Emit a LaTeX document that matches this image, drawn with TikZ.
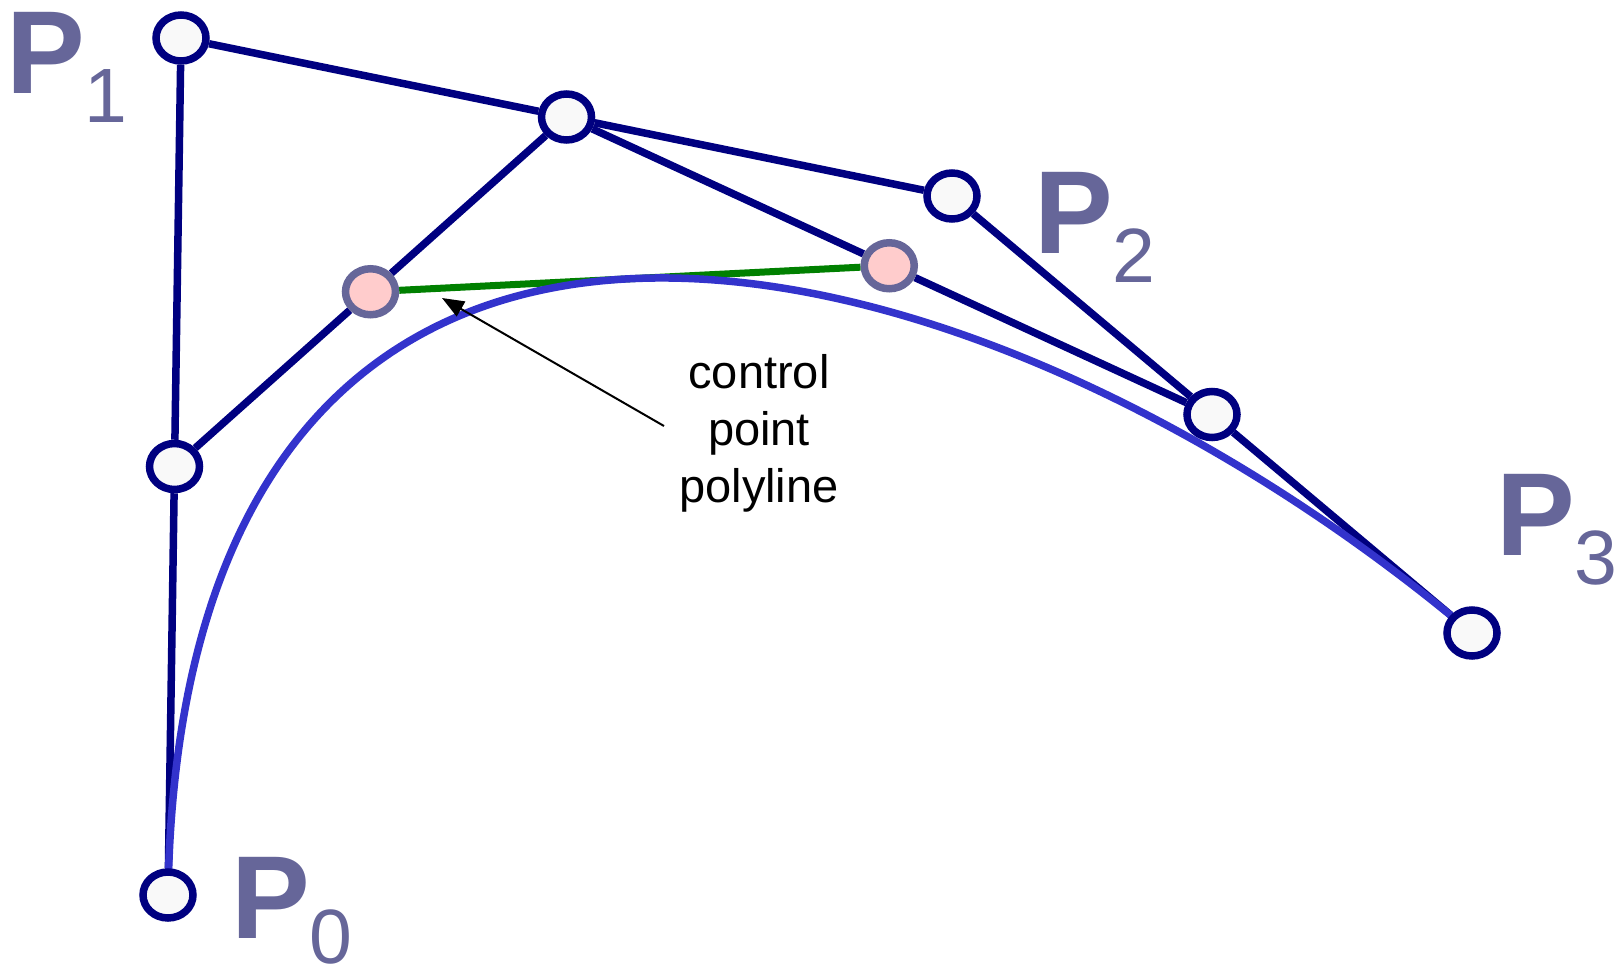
\documentclass[tikz,border=0pt]{standalone}
\usepackage{fontspec}
\setmainfont{Liberation Sans}
\usetikzlibrary{arrows.meta, calc, shapes.geometric, backgrounds}

\definecolor{polynavy}{RGB}{0,0,128}
\definecolor{curveblue}{RGB}{51,51,204}
\definecolor{polygreen}{RGB}{0,128,0}
\definecolor{labelgray}{RGB}{102,102,153}
\definecolor{knotfill}{RGB}{249,249,249}
\definecolor{pinkfill}{RGB}{255,204,204}

\newcommand{\ptlabel}[2][-29pt]{{\fontsize{118}{118}\selectfont\bfseries P}\raisebox{#1}{\fontsize{77}{77}\selectfont #2}}

\begin{document}
\begin{tikzpicture}[
  x=1pt, y=-1pt,
  knot/.style = {ellipse, draw=polynavy, fill=knotfill, line width=7.5pt, minimum width=50pt, minimum height=46pt, inner sep=0pt},
  halfknot/.style = {knot, draw=labelgray, fill=pinkfill},
  poly/.style = {polynavy, line width=7.5pt},
  ptname/.style = {anchor=base west, inner sep=0pt, text=labelgray},
  pointer/.style = {line width=2pt, -{Triangle[length=22pt, width=17pt]}}
]
\useasboundingbox (0,0) rectangle (1620,972);

  % control points
  \node[knot] (p0) at (168,895) {};
  \node[knot] (p1) at (181,38) {};
  \node[knot] (p2) at (952,196) {};
  \node[knot] (p3) at (1472,633) {};

  % first subdivision
  \node[knot] (q01) at ($(p0)!.5!(p1)$) {};
  \node[knot] (q12) at ($(p1)!.5!(p2)$) {};
  \node[knot] (q23) at ($(p2)!.5!(p3)$) {};

  % second subdivision
  \node[halfknot] (r0) at ($(q01)!.5!(q12)$) {};
  \node[halfknot] (r1) at ($(q12)!.5!(q23)$) {};

  \begin{pgfonlayer}{background}
    \draw[poly] (p0) -- (q01) -- (p1) -- (q12) -- (p2) -- (q23) -- (p3);
    \draw[poly] (q01) -- (r0) -- (q12) -- (r1) -- (q23);
    \draw[polygreen, line width=7pt] (r0) -- (r1);
    \draw[curveblue, line width=7.5pt] (p0.center) .. controls (p1.center) and (p2.center) .. (p3.center);
  \end{pgfonlayer}

  % labels
  \node[ptname] (l0) at (231,938) {\ptlabel[-25pt]{0}};
  \node[ptname] (l1) at (6,93) {\ptlabel{1}};
  \node[ptname] (l2) at (1034,253) {\ptlabel{2}};
  \node[ptname] (l3) at (1496,555) {\ptlabel{3}};

  % annotation
  \node[font=\fontsize{47}{57}\selectfont, align=center] (ann) at (759,433) {control\\point\\polyline};
  \coordinate (tail) at (664,426);
  \coordinate (tip) at (442,298);
  \draw[pointer] (tail) -- (tip);

\end{tikzpicture}
\end{document}
